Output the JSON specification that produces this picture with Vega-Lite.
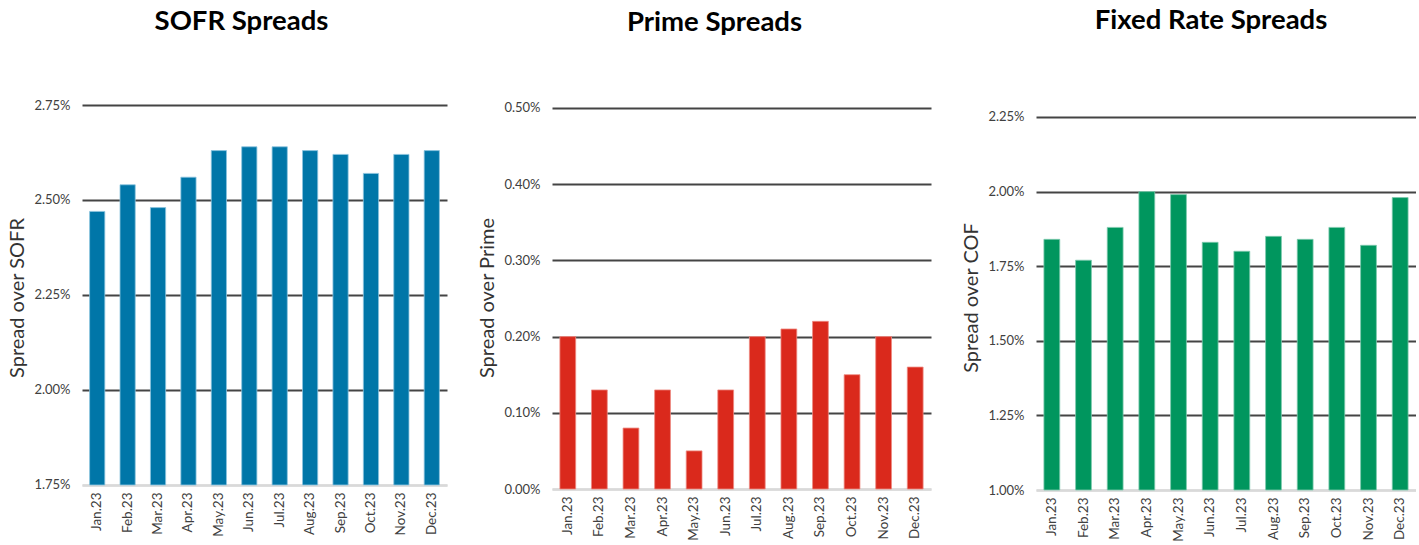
{
  "$schema": "https://vega.github.io/schema/vega-lite/v6.json",
  "background": "white",
  "padding": {"left": 7, "top": 6, "right": 0, "bottom": 0},
  "spacing": 30,
  "config": {
    "font": "Lato",
    "view": {"stroke": null},
    "title": {"font": "Lato", "fontSize": 27.5, "fontWeight": "bold", "color": "#000000", "anchor": "middle", "baseline": "alphabetic", "frame": "group"},
    "axisX": {"labelAngle": -90, "labelFontSize": 13.5, "labelColor": "#404040", "labelPadding": 7, "ticks": false, "domainColor": "#d9d9d9", "domainWidth": 2.5, "grid": false, "title": null, "labelAlign": "right", "labelBaseline": "middle"},
    "axisY": {"labelFontSize": 13, "labelColor": "#404040", "labelPadding": 12, "ticks": false, "domain": false, "gridWidth": 2, "titleFontSize": 20, "titleFontWeight": "normal", "titleColor": "#333333", "titlePadding": 2, "minExtent": 53, "maxExtent": 53},
    "bar": {"strokeWidth": 0.8}
  },
  "hconcat": [
    {
      "title": {"text": "SOFR Spreads", "dx": -23, "offset": 64},
      "width": 365,
      "height": 385,
      "data": {"values": [
        {"month": "Jan.23", "spread": 2.47},
        {"month": "Feb.23", "spread": 2.54},
        {"month": "Mar.23", "spread": 2.48},
        {"month": "Apr.23", "spread": 2.56},
        {"month": "May.23", "spread": 2.63},
        {"month": "Jun.23", "spread": 2.64},
        {"month": "Jul.23", "spread": 2.64},
        {"month": "Aug.23", "spread": 2.63},
        {"month": "Sep.23", "spread": 2.62},
        {"month": "Oct.23", "spread": 2.57},
        {"month": "Nov.23", "spread": 2.62},
        {"month": "Dec.23", "spread": 2.63}
      ]},
      "mark": {"type": "bar", "color": "#0076A8", "stroke": "#8cc4de"},
      "encoding": {
        "x": {"field": "month", "type": "nominal", "sort": null, "scale": {"paddingInner": 0.5, "paddingOuter": 0.25}, "axis": {"offset": -5}},
        "y": {"field": "spread", "type": "quantitative", "scale": {"domain": [1.7368, 2.75], "nice": false, "zero": false, "clamp": true},
          "axis": {"title": "Spread over SOFR", "values": [1.75, 2.0, 2.25, 2.5, 2.75], "labelExpr": "format(datum.value, '.2f') + '%'",
            "gridColor": {"condition": {"test": "datum.value == 1.75", "value": "#d9d9d9"}, "value": "#444444"}}},
        "y2": {"datum": 1.75}
      }
    },
    {
      "title": {"text": "Prime Spreads", "dx": -27, "offset": 65},
      "width": 379,
      "height": 385,
      "data": {"values": [
        {"month": "Jan.23", "spread": 0.20},
        {"month": "Feb.23", "spread": 0.13},
        {"month": "Mar.23", "spread": 0.08},
        {"month": "Apr.23", "spread": 0.13},
        {"month": "May.23", "spread": 0.05},
        {"month": "Jun.23", "spread": 0.13},
        {"month": "Jul.23", "spread": 0.20},
        {"month": "Aug.23", "spread": 0.21},
        {"month": "Sep.23", "spread": 0.22},
        {"month": "Oct.23", "spread": 0.15},
        {"month": "Nov.23", "spread": 0.20},
        {"month": "Dec.23", "spread": 0.16}
      ]},
      "mark": {"type": "bar", "color": "#DA291C", "stroke": "#ee8a82"},
      "encoding": {
        "x": {"field": "month", "type": "nominal", "sort": null, "scale": {"paddingInner": 0.5, "paddingOuter": 0.25}, "axis": {"offset": -1}},
        "y": {"field": "spread", "type": "quantitative", "scale": {"domain": [-0.0013, 0.5039], "nice": false, "zero": false, "clamp": true},
          "axis": {"title": "Spread over Prime", "values": [0, 0.1, 0.2, 0.3, 0.4, 0.5], "labelExpr": "format(datum.value, '.2f') + '%'",
            "gridColor": {"condition": {"test": "datum.value == 0", "value": "#d9d9d9"}, "value": "#444444"}}},
        "y2": {"datum": 0}
      }
    },
    {
      "title": {"text": "Fixed Rate Spreads", "dx": -15, "offset": 71},
      "width": 380,
      "height": 385,
      "data": {"values": [
        {"month": "Jan.23", "spread": 1.84},
        {"month": "Feb.23", "spread": 1.77},
        {"month": "Mar.23", "spread": 1.88},
        {"month": "Apr.23", "spread": 2.00},
        {"month": "May.23", "spread": 1.99},
        {"month": "Jun.23", "spread": 1.83},
        {"month": "Jul.23", "spread": 1.80},
        {"month": "Aug.23", "spread": 1.85},
        {"month": "Sep.23", "spread": 1.84},
        {"month": "Oct.23", "spread": 1.88},
        {"month": "Nov.23", "spread": 1.82},
        {"month": "Dec.23", "spread": 1.98}
      ]},
      "mark": {"type": "bar", "color": "#00965E", "stroke": "#7fcaae"},
      "encoding": {
        "x": {"field": "month", "type": "nominal", "sort": null, "scale": {"paddingInner": 0.5, "paddingOuter": 0.25}},
        "y": {"field": "spread", "type": "quantitative", "scale": {"domain": [1.0, 2.2902], "nice": false, "zero": false, "clamp": true},
          "axis": {"title": "Spread over COF", "values": [1.0, 1.25, 1.5, 1.75, 2.0, 2.25], "labelExpr": "format(datum.value, '.2f') + '%'",
            "gridColor": {"condition": {"test": "datum.value == 1", "value": "#d9d9d9"}, "value": "#444444"}}},
        "y2": {"datum": 1.0}
      }
    }
  ]
}
